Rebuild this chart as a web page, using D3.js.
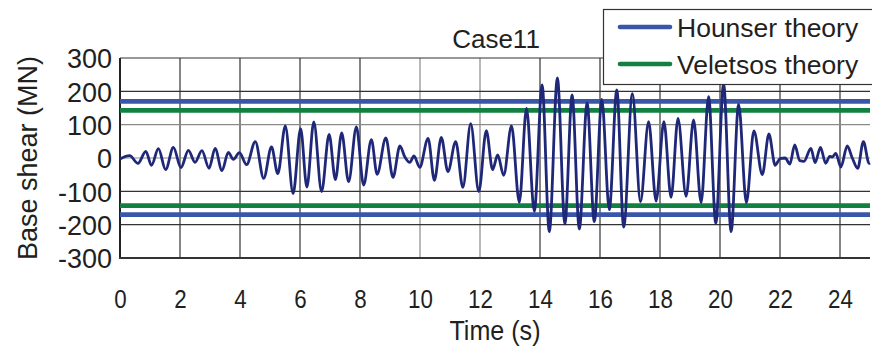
<!DOCTYPE html>
<html>
<head>
<meta charset="utf-8">
<script src="https://cdn.jsdelivr.net/npm/d3@7/dist/d3.min.js"></script>
<style>
  html, body { margin: 0; padding: 0; background: #fff; }
  svg { display: block; }
  text { font-family: "Liberation Sans", Arial, Helvetica, sans-serif; fill: #231f20; }
</style>
</head>
<body>
<svg id="chart" width="872" height="351"></svg>
<script>
// ---- data ----
const chartTitle = "Case11";
const xTicks = [0, 2, 4, 6, 8, 10, 12, 14, 16, 18, 20, 22, 24];
const yTicks = [-300, -200, -100, 0, 100, 200, 300];
const legendNames = ["Hounser theory", "Veletsos theory"];
const houserLimit = 170;    // MN
const veletsosLimit = 143;  // MN

// base shear time history: extrema
const timeS = [
  0.00, 0.32, 0.60, 0.86, 1.05, 1.28, 1.52, 1.78, 2.03, 2.28, 2.50, 2.73, 2.97, 3.17, 3.40, 3.61, 3.78, 3.98,
  4.22, 4.51, 4.79, 5.05, 5.26, 5.51, 5.77, 6.02, 6.23, 6.46, 6.72, 6.97, 7.18, 7.39, 7.62, 7.88, 8.12, 8.38,
  8.57, 8.86, 9.10, 9.33, 9.49, 9.66, 9.80, 9.99, 10.27, 10.48, 10.71, 10.93, 11.19, 11.43, 11.69, 11.96,
  12.21, 12.42, 12.59, 12.79, 13.05, 13.31, 13.55, 13.81, 14.07, 14.31, 14.58, 14.83, 15.07, 15.31, 15.57,
  15.81, 16.06, 16.31, 16.56, 16.79, 17.08, 17.35, 17.62, 17.87, 18.13, 18.37, 18.60, 18.87, 19.12, 19.37,
  19.62, 19.86, 20.12, 20.37, 20.62, 20.88, 21.13, 21.41, 21.63, 21.84, 22.00, 22.17, 22.33, 22.49, 22.66,
  22.80, 23.03, 23.17, 23.35, 23.52, 23.66, 23.74, 23.86, 24.03, 24.24, 24.41, 24.59, 24.78, 24.97, 25.00
];
const baseShearMN = [
  -3, 7, -16, 20, -22, 28, -35, 32, -29, 23, -13, 22, -31, 29, -38, 17, -4, 16,
  -20, 49, -61, 33, -47, 96, -107, 88, -87, 108, -101, 71, -65, 75, -71, 93, -81, 55,
  -49, 60, -58, 36, 4, -13, 6, -28, 59, -67, 62, -41, 49, -88, 103, -101,
  82, -35, 9, -52, 96, -133, 149, -160, 219, -221, 240, -198, 189, -213, 165,
  -191, 176, -155, 204, -207, 193, -131, 109, -129, 109, -118, 119, -115, 114, -134,
  184, -196, 222, -221, 161, -134, 81, -50, 72, -22, -2, 0, -18, 39, -8,
  -10, 29, -14, 32, -16, 5, 3, 14, -27, 36, 0, -31, 49, -16, -15
];

// ---- layout ----
const svg = d3.select("#chart");
const plotLeft = 120, plotTop = 58, plotW = 750, plotH = 200;

const x = d3.scaleLinear().domain([0, 25]).range([plotLeft, plotLeft + plotW]);
const y = d3.scaleLinear().domain([-300, 300]).range([plotTop + plotH, plotTop]);

// grid
const grid = svg.append("g");
grid.selectAll("line.v").data(xTicks.filter(d => d > 0)).enter().append("line")
  .attr("x1", d => x(d)).attr("x2", d => x(d))
  .attr("y1", y(300)).attr("y2", y(-300))
  .attr("stroke", d => (d === 10 || d === 12) ? "#8a8a8a" : "#333").attr("stroke-width", 1.2);
grid.selectAll("line.h").data(yTicks).enter().append("line")
  .attr("x1", x(0)).attr("x2", x(25))
  .attr("y1", d => y(d)).attr("y2", d => y(d))
  .attr("stroke", d => (d === 100 || d === 0) ? "#8a8a8a" : "#333").attr("stroke-width", 1.2);

// frame: left & bottom thicker
svg.append("line").attr("x1", x(0)).attr("x2", x(0)).attr("y1", y(300)).attr("y2", y(-300) + 1)
  .attr("stroke", "#222").attr("stroke-width", 2);
svg.append("line").attr("x1", x(0) - 1).attr("x2", x(25)).attr("y1", y(-300)).attr("y2", y(-300))
  .attr("stroke", "#333").attr("stroke-width", 2.2);

// theory limits
const theory = [
  { name: legendNames[0], value: houserLimit, color: "#3a56a8" },
  { name: legendNames[1], value: veletsosLimit, color: "#128040" }
];
theory.forEach(t => {
  [t.value, -t.value].forEach(v => {
    svg.append("line")
      .attr("x1", x(0)).attr("x2", x(25))
      .attr("y1", y(v)).attr("y2", y(v))
      .attr("stroke", t.color).attr("stroke-width", 4.6);
  });
});

// waveform
const series = timeS.map((t, i) => [t, baseShearMN[i]]);
const line = d3.line().x(d => x(d[0])).y(d => y(d[1])).curve(d3.curveMonotoneX);
svg.append("path").datum(series)
  .attr("d", line)
  .attr("fill", "none")
  .attr("stroke", "#1f2878")
  .attr("stroke-width", 2.8)
  .attr("stroke-linejoin", "round");

// x axis (labels only, slightly condensed)
const xAxis = d3.axisBottom(x).tickValues(xTicks).tickSize(0).tickPadding(0).tickFormat(d => String(d));
const gx = svg.append("g").attr("transform", `translate(0,${y(-300)})`).call(xAxis);
gx.select(".domain").remove();
gx.selectAll(".tick text").attr("font-size", 26).attr("fill", "#231f20")
  .attr("x", 0).attr("y", 50).attr("dy", 0)
  .attr("transform", "scale(0.86,1)");

// y axis (plain hyphen minus like the reference)
const yAxis = d3.axisLeft(y).tickValues(yTicks).tickSize(0).tickPadding(8).tickFormat(d => String(d));
const gy = svg.append("g").attr("transform", `translate(${x(0)},0)`).call(yAxis);
gy.select(".domain").remove();
gy.selectAll("text").attr("font-size", 27).attr("fill", "#231f20").attr("dy", "0.36em");

// axis titles
const cx = (x(0) + x(25)) / 2;
svg.append("text").attr("x", cx).attr("y", 340)
  .attr("text-anchor", "middle").attr("font-size", 27)
  .attr("transform", `translate(${cx * (1 - 0.93)},0) scale(0.93,1)`)
  .text("Time (s)");
svg.append("text")
  .attr("transform", `translate(37,${y(0)}) rotate(-90)`)
  .attr("text-anchor", "middle").attr("font-size", 27)
  .text("Base shear (MN)");

// title
svg.append("text").attr("x", 496).attr("y", 48).attr("text-anchor", "middle")
  .attr("font-size", 26).text(chartTitle);

// legend
const lg = svg.append("g");
lg.append("rect").attr("x", 603.5).attr("y", 9.5).attr("width", 290).attr("height", 75)
  .attr("fill", "#fff").attr("stroke", "#333").attr("stroke-width", 1.2);
theory.forEach((t, i) => {
  const ly = 27 + i * 37;
  lg.append("line").attr("x1", 620).attr("x2", 670).attr("y1", ly).attr("y2", ly)
    .attr("stroke", t.color).attr("stroke-width", 4.6).attr("stroke-linecap", "round");
  lg.append("text").attr("x", 677).attr("y", ly + 10).attr("font-size", 26.5).text(t.name);
});
</script>
</body>
</html>
